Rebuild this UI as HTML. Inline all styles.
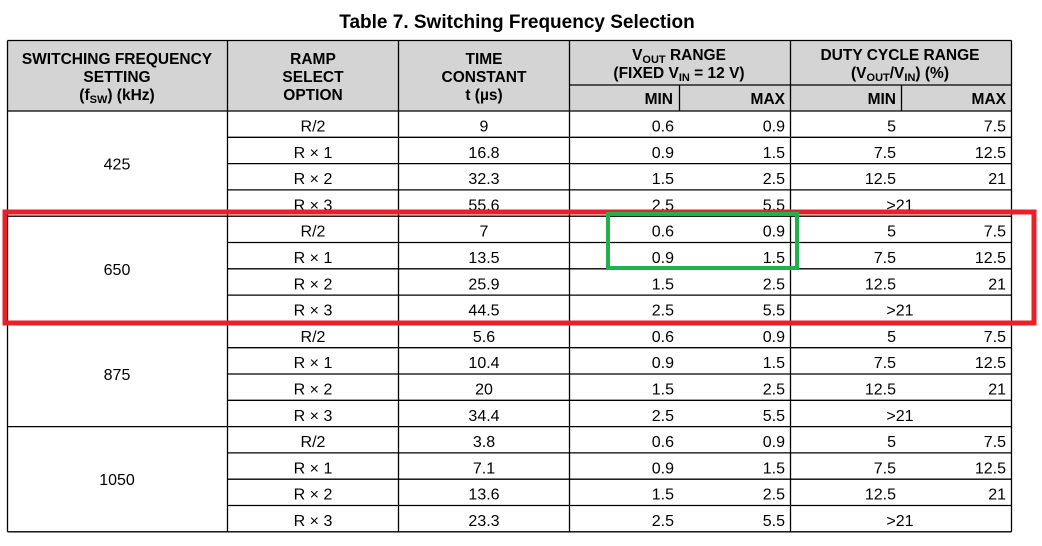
<!DOCTYPE html>
<html><head><meta charset="utf-8"><style>
body{margin:0;background:#fff;width:1042px;height:541px;overflow:hidden}
svg text{font-family:"Liberation Sans",Arial,sans-serif;fill:#000}
</style></head><body>
<svg id="s" width="1042" height="541">
<text x="517" y="28" font-size="19" font-weight="bold" text-anchor="middle">Table 7. Switching Frequency Selection</text>
<rect x="7.5" y="40.5" width="1004" height="70.5" fill="#d4d4d4"/>
<g font-size="15.5" font-weight="bold" text-anchor="middle">
<text x="117" y="64">SWITCHING FREQUENCY</text>
<text x="117" y="82">SETTING</text>
<text x="117" y="100">(f<tspan font-size="11" dy="3">SW</tspan><tspan dy="-3">) (kHz)</tspan></text>
<text x="313" y="64">RAMP</text>
<text x="313" y="82">SELECT</text>
<text x="313" y="100">OPTION</text>
<text x="484" y="64">TIME</text>
<text x="484" y="82">CONSTANT</text>
<text x="484" y="100">t (µs)</text>
<text x="679" y="60">V<tspan font-size="11" dy="3">OUT</tspan><tspan dy="-3"> RANGE</tspan></text>
<text x="679" y="78">(FIXED V<tspan font-size="11" dy="3">IN</tspan><tspan dy="-3"> = 12 V)</tspan></text>
<text x="900" y="60">DUTY CYCLE RANGE</text>
<text x="900" y="78">(V<tspan font-size="11" dy="3">OUT</tspan><tspan dy="-3">/V</tspan><tspan font-size="11" dy="3">IN</tspan><tspan dy="-3">) (%)</tspan></text>
<text x="673" y="104" text-anchor="end">MIN</text>
<text x="785" y="104" text-anchor="end">MAX</text>
<text x="896" y="104" text-anchor="end">MIN</text>
<text x="1006" y="104" text-anchor="end">MAX</text>
</g>
<g id="grid" stroke="#000" stroke-width="1.3" fill="none"></g>
<g id="body" font-size="16"></g>
<rect x="5" y="212" width="1029" height="111" fill="none" stroke="#e8202a" stroke-width="5"/>
<rect x="608" y="214" width="189" height="54" fill="none" stroke="#22b04b" stroke-width="4"/>
</svg>
<script>
const freqs=["425","650","875","1050"];
const ramps=["R/2","R × 1","R × 2","R × 3"];
const timeConst=[[9,16.8,32.3,55.6],[7,13.5,25.9,44.5],[5.6,10.4,20,34.4],[3.8,7.1,13.6,23.3]];
const voutMin=["0.6","0.9","1.5","2.5"];
const voutMax=["0.9","1.5","2.5","5.5"];
const dutyMin=["5","7.5","12.5",">21"];
const dutyMax=["7.5","12.5","21",""];
const NS="http://www.w3.org/2000/svg";
const g=document.getElementById('grid'),b=document.getElementById('body');
const top0=111,rh=26.3,L=7.5,R=1011.5;
function line(x1,y1,x2,y2){const l=document.createElementNS(NS,'line');l.setAttribute('x1',x1);l.setAttribute('y1',y1);l.setAttribute('x2',x2);l.setAttribute('y2',y2);


g.appendChild(l);}
function txt(x,y,s,a,name){const t=document.createElementNS(NS,'text');t.setAttribute('x',x);t.setAttribute('y',y);t.setAttribute('text-anchor',a);t.textContent=s;


b.appendChild(t);}
const bottom=top0+rh*16;
line(L,40.5,R,40.5);line(569.5,85,R,85);line(L,111,R,111);
[L,227.5,398.5,569.5,790.5,R].forEach(x=>line(x,40.5,x,bottom));
[679.5,901.5].forEach(x=>line(x,85,x,111));
freqs.forEach((f,gi)=>{
  const gy=top0+gi*4*rh;
  txt(117,gy+2*rh+6,f,'middle','frequency-'+f);
  for(let i=0;i<4;i++){
    const y=gy+i*rh;
    if(i>0) line(227.5,y,R,y);
    const by=y+20.5;
    txt(313,by,ramps[i],'middle','ramp-option');
    txt(484,by,String(timeConst[gi][i]),'middle','time-constant');
    txt(674,by,voutMin[i],'end','vout-min');
    txt(785,by,voutMax[i],'end','vout-max');
    if(dutyMax[i]===""){txt(900,by,dutyMin[i],'middle','duty-range');}
    else{txt(896,by,dutyMin[i],'end','duty-min');txt(1006,by,dutyMax[i],'end','duty-max');}
  }
  line(L,gy+4*rh,R,gy+4*rh);
});
</script>
</body></html>
